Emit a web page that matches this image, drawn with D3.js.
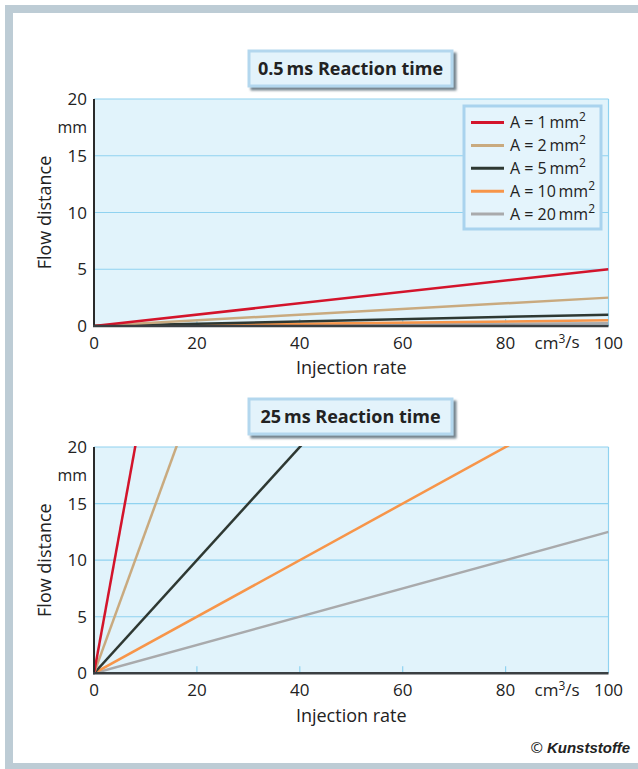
<!DOCTYPE html>
<html>
<head>
<meta charset="utf-8">
<script src="https://cdn.jsdelivr.net/npm/d3@7"></script>
<style>
  html, body { margin: 0; padding: 0; background: #fff; }
  svg { display: block; font-family: "Open Sans", "Noto Sans", sans-serif; }
</style>
</head>
<body>
<div id="chart"></div>
<script>
// Chart data
const areaLabels = ['1', '2', '5', '10', '20'];        // cross-section A in mm²
const rateValues = [0, 100];                            // injection rate, cm³/s
const flow05 = [[0, 5], [0, 2.5], [0, 1], [0, 0.5], [0, 0.25]];      // 0.5 ms
const flow25 = [[0, 250], [0, 125], [0, 50], [0, 25], [0, 12.5]];    // 25 ms
const xTicks = [0, 20, 40, 60, 80, 100];
const yTicks = [0, 5, 10, 15, 20];
const panelTitles = ['0.5', '25'];

const colors = ['#d3142b', '#c9aa7f', '#2e3832', '#f79549', '#a9aaac'];

const W = 638, H = 769;
const svg = d3.select('#chart').append('svg')
    .attr('width', W)
    .attr('height', H);

// outer frame
const frameColor = '#bdccd5';
svg.append('rect').attr('x', 5).attr('y', 5).attr('width', W - 5).attr('height', 8).attr('fill', frameColor);
svg.append('rect').attr('x', 5).attr('y', 5).attr('width', 8).attr('height', H - 5).attr('fill', frameColor);
svg.append('rect').attr('x', 5).attr('y', 763).attr('width', W - 5).attr('height', 6).attr('fill', frameColor);

const defs = svg.append('defs');
defs.append('filter').attr('id', 'shadow')
    .attr('x', '-10%').attr('y', '-20%').attr('width', '130%').attr('height', '160%')
    .append('feDropShadow')
    .attr('dx', 3).attr('dy', 3).attr('stdDeviation', 1.2)
    .attr('flood-color', '#5d6f7c').attr('flood-opacity', 0.85);

const x = d3.scaleLinear().domain([0, 100]).range([94, 608.5]);

function drawPanel(idx, top, bottom, flows) {
    const y = d3.scaleLinear().domain([0, 20]).range([bottom, top]);
    const g = svg.append('g');

    // plot background
    g.append('rect')
        .attr('x', x(0)).attr('y', y(20))
        .attr('width', x(100) - x(0)).attr('height', y(0) - y(20))
        .attr('fill', '#e1f3fb');

    // horizontal grid
    g.append('g')
        .selectAll('line')
        .data(yTicks.filter(d => d > 0))
        .join('line')
        .attr('x1', x(0)).attr('x2', x(100))
        .attr('y1', d => y(d)).attr('y2', d => y(d))
        .attr('stroke', '#8fd2f0')
        .attr('stroke-width', 1.2);

    // right border
    g.append('line')
        .attr('x1', x(100)).attr('x2', x(100))
        .attr('y1', y(20)).attr('y2', y(0))
        .attr('stroke', '#8fd2f0').attr('stroke-width', 1.2);

    // small x ticks inside
    g.append('g')
        .selectAll('line')
        .data(xTicks.filter(d => d > 0 && d < 100))
        .join('line')
        .attr('x1', d => x(d)).attr('x2', d => x(d))
        .attr('y1', y(0)).attr('y2', y(0) - 7)
        .attr('stroke', '#8fd2f0').attr('stroke-width', 1.2);

    // clip
    const clipId = 'clip' + idx;
    defs.append('clipPath').attr('id', clipId)
        .append('rect')
        .attr('x', x(0)).attr('y', y(20) - 1)
        .attr('width', x(100) - x(0)).attr('height', y(0) - y(20) + 1);

    const line = d3.line()
        .x((d, i) => x(rateValues[i]))
        .y(d => y(d));

    g.append('g')
        .attr('clip-path', `url(#${clipId})`)
        .selectAll('path')
        .data(flows.map((f, i) => ({ f, i })).reverse())
        .join('path')
        .attr('d', d => line(d.f))
        .attr('fill', 'none')
        .attr('stroke', d => colors[d.i])
        .attr('stroke-width', 2.5);

    // axes
    g.append('line')
        .attr('x1', x(0)).attr('x2', x(0))
        .attr('y1', y(20)).attr('y2', y(0) + 1)
        .attr('stroke', '#2a2a2a').attr('stroke-width', 2);
    g.append('line')
        .attr('x1', x(0) - 1).attr('x2', x(100))
        .attr('y1', y(0)).attr('y2', y(0))
        .attr('stroke', '#3a3f42').attr('stroke-width', 2.5);

    // y tick labels
    g.append('g')
        .selectAll('text')
        .data(yTicks)
        .join('text')
        .attr('x', 87)
        .attr('y', d => y(d))
        .attr('dy', '0.36em')
        .attr('text-anchor', 'end')
        .attr('font-size', 17)
        .attr('fill', '#222')
        .text(d => d);

    g.append('text')
        .attr('x', 87).attr('y', y(20) + 28)
        .attr('dy', '0.36em')
        .attr('text-anchor', 'end')
        .attr('font-size', 16)
        .attr('fill', '#222')
        .text('mm');

    // x tick labels
    g.append('g')
        .selectAll('text')
        .data(xTicks)
        .join('text')
        .attr('x', d => x(d))
        .attr('y', y(0) + 17)
        .attr('dy', '0.36em')
        .attr('text-anchor', 'middle')
        .attr('font-size', 17)
        .attr('fill', '#222')
        .text(d => d);

    const unit = g.append('text')
        .attr('x', x(90)).attr('y', y(0) + 17)
        .attr('dy', '0.36em')
        .attr('text-anchor', 'middle')
        .attr('font-size', 17)
        .attr('fill', '#222');
    unit.append('tspan').text('cm');
    unit.append('tspan').attr('font-size', 12).attr('dy', '-0.55em').text('3');
    unit.append('tspan').attr('dy', '0.35em').text('/s');

    // axis titles
    g.append('text')
        .attr('x', (x(0) + x(100)) / 2)
        .attr('y', y(0) + 42)
        .attr('dy', '0.36em')
        .attr('text-anchor', 'middle')
        .attr('font-size', 18)
        .attr('fill', '#222')
        .text('Injection rate');

    g.append('text')
        .attr('transform', `translate(45,${(y(0) + y(20)) / 2}) rotate(-90)`)
        .attr('dy', '0.36em')
        .attr('text-anchor', 'middle')
        .attr('font-size', 18)
        .attr('fill', '#222')
        .text('Flow distance');

    // panel title box
    const bx = 249, bw = 203, by = y(20) - 48, bh = 35;
    g.append('rect')
        .attr('x', bx).attr('y', by)
        .attr('width', bw).attr('height', bh)
        .attr('fill', '#e3f3fb')
        .attr('stroke', '#b3d7ee')
        .attr('stroke-width', 3)
        .attr('filter', 'url(#shadow)');
    g.append('text')
        .attr('x', bx + bw / 2).attr('y', by + bh / 2)
        .attr('dy', '0.36em')
        .attr('text-anchor', 'middle')
        .attr('font-size', 18)
        .attr('font-weight', 'bold')
        .attr('fill', '#222')
        .text(panelTitles[idx] + '\u2009ms Reaction time');

    return y;
}

const yA = drawPanel(0, 99, 326, flow05);
drawPanel(1, 447, 673.3, flow25);

// legend
const legend = svg.append('g');
legend.append('rect')
    .attr('x', 464).attr('y', 106)
    .attr('width', 137).attr('height', 123)
    .attr('fill', '#e4f4fc')
    .attr('stroke', '#a9d3ee')
    .attr('stroke-width', 3);

const rows = legend.selectAll('g.row')
    .data(areaLabels)
    .join('g')
    .attr('class', 'row')
    .attr('transform', (d, i) => `translate(0,${122.5 + i * 22.9})`);

rows.append('line')
    .attr('x1', 471).attr('x2', 504)
    .attr('stroke', (d, i) => colors[i])
    .attr('stroke-width', 3);

const lt = rows.append('text')
    .attr('x', 510)
    .attr('dy', '0.36em')
    .attr('font-size', 16)
    .attr('fill', '#222');
lt.append('tspan').text(d => `A = ${d}\u2009mm`);
lt.append('tspan').attr('font-size', 12).attr('dy', '-0.6em').text('2');

// credit
const credit = svg.append('text')
    .attr('x', 630).attr('y', 748)
    .attr('dy', '0.36em')
    .attr('text-anchor', 'end')
    .attr('font-size', 15)
    .attr('fill', '#222');
credit.append('tspan').text('©  ');
credit.append('tspan')
    .attr('font-family', '"Liberation Sans Narrow", "Liberation Sans", sans-serif')
    .attr('font-weight', 'bold')
    .attr('font-style', 'italic')
    .text('Kunststoffe');
</script>
</body>
</html>
